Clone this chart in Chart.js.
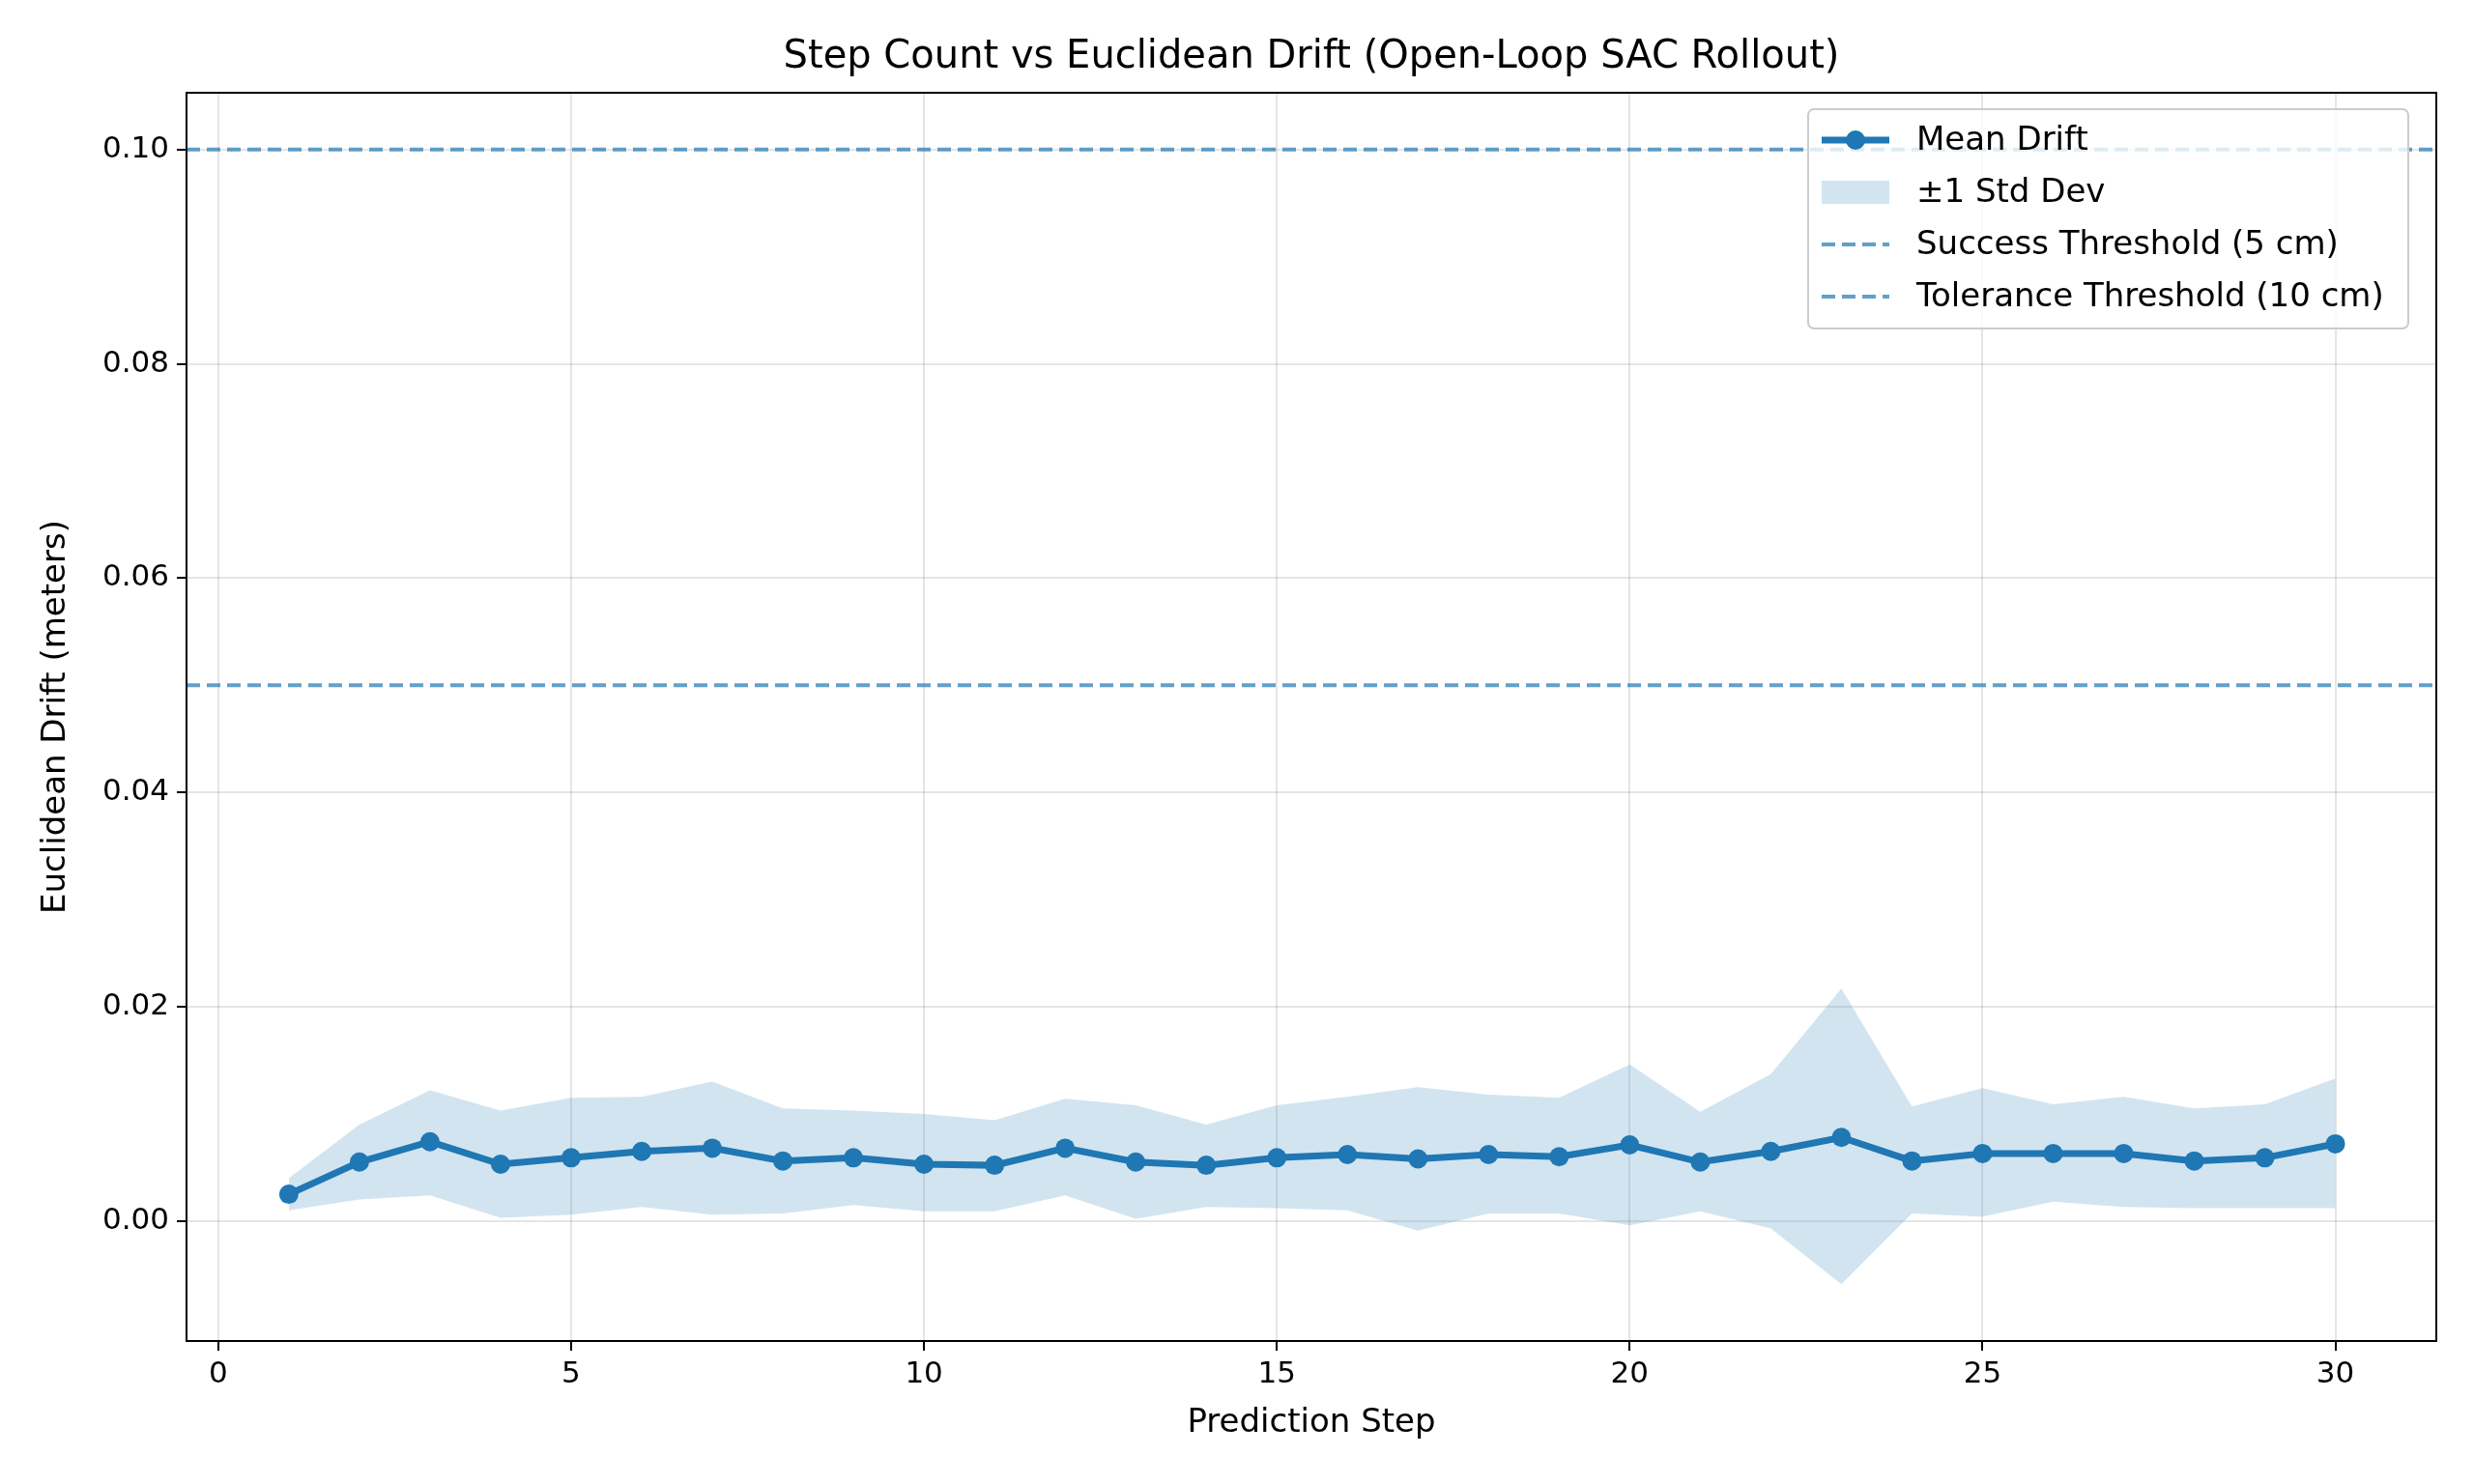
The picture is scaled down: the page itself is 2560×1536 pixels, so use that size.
<!DOCTYPE html>
<html>
<head>
<meta charset="utf-8">
<script src="https://cdn.jsdelivr.net/npm/chart.js@4.4.1/dist/chart.umd.min.js"></script>
<style>
  html, body { margin: 0; padding: 0; background: #fff; }
  #wrap { width: 2560px; height: 1536px; }
</style>
</head>
<body>
<div id="wrap"><canvas id="c" width="2560" height="1536"></canvas></div>
<script>
// values
const steps = [1,2,3,4,5,6,7,8,9,10,11,12,13,14,15,16,17,18,19,20,21,22,23,24,25,26,27,28,29,30];
const meanDrift = [0.0025,0.0055,0.0074,0.0053,0.0059,0.0065,0.0068,0.0056,0.0059,0.0053,
  0.0052,0.0068,0.0055,0.0052,0.0059,0.0062,0.0058,0.0062,0.0060,0.0071,
  0.0055,0.0065,0.0078,0.0056,0.0063,0.0063,0.0063,0.0056,0.0059,0.0072];
const upperBand = [0.0040,0.0090,0.0122,0.0103,0.0115,0.0116,0.0130,0.0105,0.0103,0.0100,
  0.0094,0.0114,0.0108,0.0090,0.0108,0.0116,0.0125,0.0118,0.0115,0.0146,
  0.0102,0.0137,0.0217,0.0107,0.0124,0.0109,0.0116,0.0105,0.0109,0.0133];
const lowerBand = [0.0010,0.0020,0.0024,0.0003,0.0006,0.0013,0.0006,0.0007,0.0015,0.0009,
  0.0009,0.0024,0.0002,0.0013,0.0012,0.0010,-0.0009,0.0007,0.0007,-0.0004,
  0.0009,-0.0007,-0.0059,0.0007,0.0004,0.0018,0.0013,0.0012,0.0012,0.0012];
const successThreshold = 0.05;
const toleranceThreshold = 0.10;
const xTicks = [0, 5, 10, 15, 20, 25, 30];
const yTicks = [0, 0.02, 0.04, 0.06, 0.08, 0.10];

const X_MIN = -0.45, X_MAX = 31.43;
const BLUE = '#1f77b4';
const DASH_BLUE = 'rgba(31,119,180,0.7)';
const BAND = 'rgba(31,119,180,0.2)';
const FONT = 'DejaVu Sans';

const pts = (ys) => steps.map((s, i) => ({ x: s, y: ys[i] }));
const hline = (v) => [{ x: X_MIN, y: v }, { x: X_MAX, y: v }];

const legendItems = [
  { label: 'Mean Drift', kind: 'line' },
  { label: '±1 Std Dev', kind: 'patch' },
  { label: 'Success Threshold (5 cm)', kind: 'dash' },
  { label: 'Tolerance Threshold (10 cm)', kind: 'dash' }
];

const decor = {
  id: 'decor',
  afterDraw(chart) {
    const { ctx, chartArea: a } = chart;
    ctx.save();
    // frame
    ctx.strokeStyle = '#000';
    ctx.lineWidth = 2;
    ctx.strokeRect(a.left, a.top, a.right - a.left, a.bottom - a.top);
    // title
    ctx.fillStyle = '#000';
    ctx.font = '40px ' + FONT;
    ctx.textAlign = 'center';
    ctx.textBaseline = 'middle';
    ctx.fillText('Step Count vs Euclidean Drift (Open-Loop SAC Rollout)', (a.left + a.right) / 2, 60);
    // legend
    const bx = 1871, by = 113, bw = 2492 - 1871, bh = 340 - 113;
    ctx.fillStyle = 'rgba(255,255,255,0.8)';
    ctx.strokeStyle = '#cccccc';
    ctx.lineWidth = 2;
    ctx.beginPath();
    ctx.roundRect(bx, by, bw, bh, 6);
    ctx.fill();
    ctx.stroke();
    ctx.font = '34px ' + FONT;
    ctx.textAlign = 'left';
    legendItems.forEach((it, i) => {
      const cy = by + 32 + i * 54;
      const x0 = bx + 14, x1 = bx + 84;
      if (it.kind === 'line') {
        ctx.strokeStyle = BLUE; ctx.lineWidth = 7; ctx.setLineDash([]);
        ctx.beginPath(); ctx.moveTo(x0, cy); ctx.lineTo(x1, cy); ctx.stroke();
        ctx.fillStyle = BLUE;
        ctx.beginPath(); ctx.arc((x0 + x1) / 2, cy, 10, 0, Math.PI * 2); ctx.fill();
      } else if (it.kind === 'patch') {
        ctx.fillStyle = BAND;
        ctx.fillRect(x0, cy - 12, x1 - x0, 24);
      } else {
        ctx.strokeStyle = DASH_BLUE; ctx.lineWidth = 4; ctx.setLineDash([14, 7]);
        ctx.beginPath(); ctx.moveTo(x0, cy); ctx.lineTo(x1, cy); ctx.stroke();
        ctx.setLineDash([]);
      }
      ctx.fillStyle = '#000';
      ctx.fillText(it.label, bx + 112, cy + 1);
    });
    ctx.restore();
  }
};

new Chart(document.getElementById('c'), {
  type: 'line',
  data: {
    datasets: [
      { label: 'upper', data: pts(upperBand), borderWidth: 0, pointRadius: 0, fill: false, order: 5 },
      { label: '±1 Std Dev', data: pts(lowerBand), borderWidth: 0, pointRadius: 0, fill: '-1', backgroundColor: BAND, order: 4 },
      { label: 'Success Threshold (5 cm)', data: hline(successThreshold), borderColor: DASH_BLUE, borderWidth: 4, borderDash: [14, 7], pointRadius: 0, order: 2 },
      { label: 'Tolerance Threshold (10 cm)', data: hline(toleranceThreshold), borderColor: DASH_BLUE, borderWidth: 4, borderDash: [14, 7], pointRadius: 0, order: 2 },
      { label: 'Mean Drift', data: pts(meanDrift), borderColor: BLUE, backgroundColor: BLUE, borderWidth: 7, pointRadius: 10, pointBorderWidth: 0, order: 1 }
    ]
  },
  options: {
    responsive: false,
    animation: false,
    devicePixelRatio: 1,
    layout: { padding: { top: 96, right: 39, left: 34, bottom: 38 } },
    plugins: { legend: { display: false }, title: { display: false }, tooltip: { enabled: false } },
    scales: {
      x: {
        type: 'linear', min: X_MIN, max: X_MAX,
        afterBuildTicks: (s) => { s.ticks = xTicks.map(v => ({ value: v })); },
        afterFit: (s) => { s.height = 110; },
        grid: { color: 'rgba(0,0,0,0.1)', lineWidth: 2, tickLength: 10, tickColor: '#000', drawTicks: true },
        border: { display: false },
        ticks: { color: '#000', font: { family: FONT, size: 31 }, padding: 6, maxRotation: 0 },
        title: { display: true, text: 'Prediction Step', color: '#000', font: { family: FONT, size: 34 }, padding: { top: 4 } }
      },
      y: {
        type: 'linear', min: -0.0112, max: 0.1053,
        afterBuildTicks: (s) => { s.ticks = yTicks.map(v => ({ value: v })); },
        afterFit: (s) => { s.width = 159; },
        grid: { color: 'rgba(0,0,0,0.1)', lineWidth: 2, tickLength: 10, tickColor: '#000' },
        border: { display: false },
        ticks: { color: '#000', font: { family: FONT, size: 31 }, padding: 8, callback: (v) => v.toFixed(2) },
        title: { display: true, text: 'Euclidean Drift (meters)', color: '#000', font: { family: FONT, size: 34 }, padding: { bottom: 10 } }
      }
    }
  },
  plugins: [decor]
});
</script>
</body>
</html>
